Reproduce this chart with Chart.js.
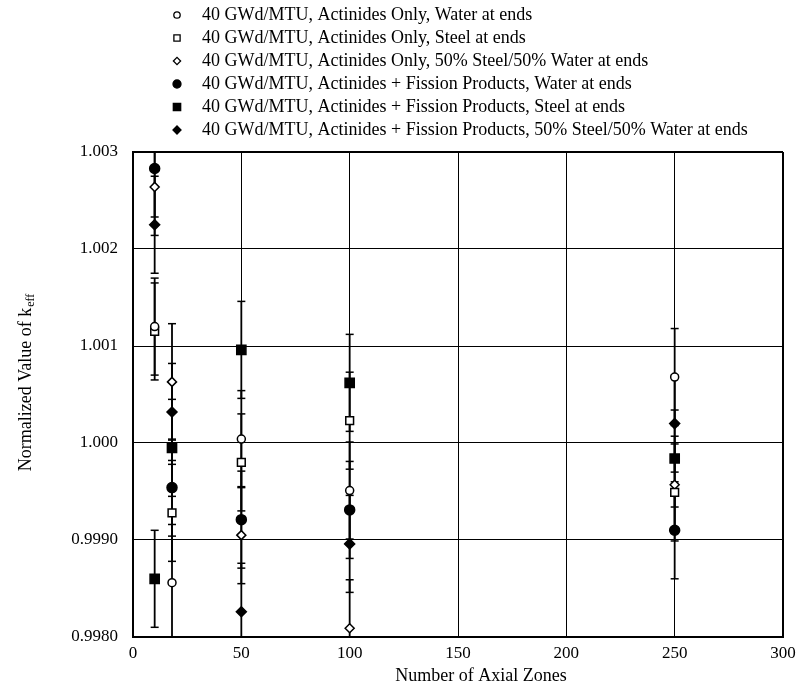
<!DOCTYPE html>
<html>
<head>
<meta charset="utf-8">
<script src="https://cdn.jsdelivr.net/npm/chart.js@4.4.0/dist/chart.umd.min.js"></script>
<style>
  html, body { margin: 0; padding: 0; background: #fff; }
</style>
</head>
<body>
<canvas id="grafico" width="802" height="696"></canvas>
<script>
// Number of axial zones (x positions)
const zones = [10, 18, 50, 100, 250]

// Axis ticks
const xTicks = [0, 50, 100, 150, 200, 250, 300]
const yTicks = [0.998, 0.999, 1.0, 1.001, 1.002, 1.003]

const seriesLabels = [
  "40 GWd/MTU, Actinides Only, Water at ends",
  "40 GWd/MTU, Actinides Only, Steel at ends",
  "40 GWd/MTU, Actinides Only, 50% Steel/50% Water at ends",
  "40 GWd/MTU, Actinides + Fission Products, Water at ends",
  "40 GWd/MTU, Actinides + Fission Products, Steel at ends",
  "40 GWd/MTU, Actinides + Fission Products, 50% Steel/50% Water at ends",
]

// Normalized k-eff values
const actWater = [1.0012, 0.99856, 1.00004, 0.99951, 1.00068]
const actSteel = [1.00115, 0.99928, 0.9998, 1.00023, 0.99949]
const actMixed = [1.00264, 1.00063, 0.99905, 0.99809, 0.99957]
const fpWater = [1.00283, 0.99954, 0.99921, 0.99931, 0.9991]
const fpSteel = [0.9986, 0.99995, 1.00096, 1.00062, 0.99984]
const fpMixed = [1.00225, 1.00032, 0.99826, 0.99896, 1.0002]

// Uncertainties (half-length of the error bars)
const actWaterErr = [0.0005, 0.0006, 0.0005, 0.0005, 0.0005]
const actSteelErr = [0.0005, 0.0005, 0.0005, 0.0005, 0.0005]
const actMixedErr = [0.0005, 0.0006, 0.0005, 0.0005, 0.0005]
const fpWaterErr = [0.0005, 0.0005, 0.0005, 0.0005, 0.0005]
const fpSteelErr = [0.0005, 0.0005, 0.0005, 0.0005, 0.0005]
const fpMixedErr = [0.0005, 0.0005, 0.0005, 0.0005, 0.0005]

const fonte = "'Liberation Serif', 'Times New Roman', serif"

const series = [
  { values: actWater, err: actWaterErr, style: "circle", radius: 4, filled: false },
  { values: actSteel, err: actSteelErr, style: "rect", radius: 5.5, filled: false },
  { values: actMixed, err: actMixedErr, style: "rectRot", radius: 4.5, filled: false },
  { values: fpWater, err: fpWaterErr, style: "circle", radius: 5, filled: true },
  { values: fpSteel, err: fpSteelErr, style: "rect", radius: 6.5, filled: true },
  { values: fpMixed, err: fpMixedErr, style: "rectRot", radius: 5, filled: true },
]

const markerSets = series.map((s, k) => ({
  label: seriesLabels[k],
  data: zones.map((x, i) => ({ x: x, y: s.values[i] })),
  pointStyle: s.style,
  pointRadius: s.radius,
  pointBackgroundColor: s.filled ? "#000" : "#fff",
  pointBorderColor: "#000",
  pointBorderWidth: 1.5,
  order: 0,
}))

// Error bars: one vertical segment per point, capped with "line" points
const errorSets = series.map((s, k) => ({
  label: seriesLabels[k] + " error",
  data: zones.flatMap((x, i) => [
    { x: x, y: s.values[i] - s.err[i] },
    { x: x, y: s.values[i] + s.err[i] },
    { x: x, y: null },
  ]),
  showLine: true,
  spanGaps: false,
  borderColor: "#000",
  borderWidth: 1.8,
  pointStyle: "line",
  pointRadius: 4,
  pointBorderColor: "#000",
  pointBorderWidth: 1.5,
  order: 1,
}))

function drawMarker(ctx, s, x, y) {
  const r = s.radius * 0.8
  ctx.beginPath()
  if (s.style === "circle") {
    ctx.arc(x, y, r, 0, Math.PI * 2)
  } else if (s.style === "rect") {
    const h = r * Math.SQRT1_2
    ctx.rect(x - h, y - h, 2 * h, 2 * h)
  } else {
    ctx.moveTo(x - r, y)
    ctx.lineTo(x, y - r)
    ctx.lineTo(x + r, y)
    ctx.lineTo(x, y + r)
    ctx.closePath()
  }
  ctx.fillStyle = s.filled ? "#000" : "#fff"
  ctx.fill()
  ctx.lineWidth = 1.3
  ctx.strokeStyle = "#000"
  ctx.stroke()
}

// Legend as a left aligned list above the plot
const legendList = {
  id: "legendList",
  afterDraw(chart) {
    const ctx = chart.ctx
    ctx.save()
    ctx.font = "18px " + fonte
    ctx.textBaseline = "middle"
    series.forEach((s, i) => {
      const y = 15 + i * 23
      drawMarker(ctx, s, 177, y)
      ctx.fillStyle = "#000"
      ctx.fillText(seriesLabels[i], 202, y)
    })
    ctx.restore()
  },
}

// Axis titles (y title needs the "eff" subscript)
const axisTitles = {
  id: "axisTitles",
  afterDraw(chart) {
    const ctx = chart.ctx
    const area = chart.chartArea
    ctx.save()
    ctx.fillStyle = "#000"
    ctx.font = "18px " + fonte
    ctx.textAlign = "center"
    ctx.textBaseline = "middle"
    ctx.fillText("Number of Axial Zones", (area.left + area.right) / 2 + 23, 676)

    ctx.translate(26, 383)
    ctx.rotate(-Math.PI / 2)
    const main = "Normalized Value of k"
    const wMain = ctx.measureText(main).width
    ctx.font = "12px " + fonte
    const wSub = ctx.measureText("eff").width
    const start = -(wMain + wSub) / 2
    ctx.textAlign = "left"
    ctx.font = "18px " + fonte
    ctx.fillText(main, start, 0)
    ctx.font = "12px " + fonte
    ctx.fillText("eff", start + wMain + 1, 5)
    ctx.restore()
  },
}

new Chart(document.getElementById("grafico"), {
  type: "scatter",
  data: { datasets: [...markerSets, ...errorSets] },
  options: {
    responsive: false,
    animation: false,
    events: [],
    layout: { padding: { top: 152, right: 19, bottom: 0, left: 0 } },
    plugins: {
      legend: { display: false },
      tooltip: { enabled: false },
    },
    scales: {
      x: {
        type: "linear",
        min: 0,
        max: 300,
        afterBuildTicks: (s) => { s.ticks = xTicks.map((v) => ({ value: v })) },
        afterFit: (s) => { s.height = 59 },
        border: { display: true, color: "#000", width: 2 },
        grid: {
          color: "#000",
          drawTicks: false,
          lineWidth: (c) => (c.tick && c.tick.value === 300 ? 2 : 1),
        },
        ticks: { color: "#000", padding: 6, font: { family: fonte, size: 17 } },
      },
      y: {
        type: "linear",
        min: 0.998,
        max: 1.003,
        afterBuildTicks: (s) => { s.ticks = yTicks.map((v) => ({ value: v })) },
        afterFit: (s) => { s.width = 133 },
        border: { display: true, color: "#000", width: 2 },
        grid: {
          color: "#000",
          drawTicks: false,
          lineWidth: (c) => (c.tick && Math.abs(c.tick.value - 1.003) < 1e-9 ? 2 : 1),
        },
        ticks: {
          color: "#000",
          padding: 15,
          font: { family: fonte, size: 17 },
          callback: (v) => (v >= 0.9995 ? v.toFixed(3) : v.toFixed(4)),
        },
      },
    },
  },
  plugins: [legendList, axisTitles],
})
</script>
</body>
</html>
